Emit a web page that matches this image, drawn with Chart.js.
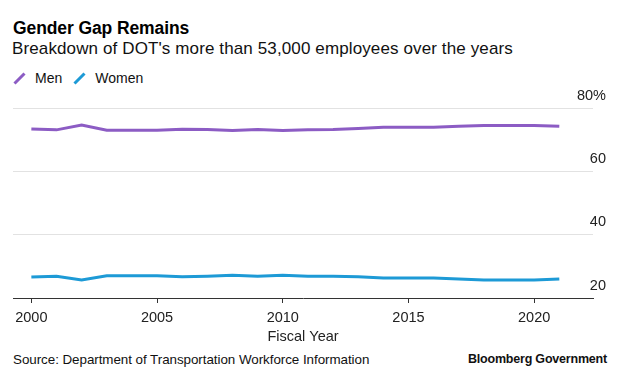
<!DOCTYPE html>
<html>
<head>
<meta charset="utf-8">
<script src="https://cdn.jsdelivr.net/npm/chart.js@4/dist/chart.umd.min.js"></script>
<style>
  html, body { margin: 0; padding: 0; background: #fff; }
  body { width: 620px; height: 379px; position: relative; overflow: hidden;
         font-family: "Liberation Sans", Arial, Helvetica, sans-serif; color: #111; }
  .abs { position: absolute; white-space: nowrap; }
  #title { left: 13px; top: 20px; font-size: 17.5px; line-height: 17px; font-weight: bold; color: #000; letter-spacing: -0.1px; }
  #subtitle { left: 12px; top: 40px; font-size: 17px; line-height: 17px; color: #111; letter-spacing: 0.12px; }
  #legend { left: 13px; top: 71px; font-size: 14px; line-height: 14px; color: #111; display: flex; align-items: center; }
  #legend svg { display: block; margin-right: 9px; }
  #legend span.item { display: flex; align-items: center; margin-right: 11px; }
  #source { left: 13px; top: 353px; font-size: 13.4px; line-height: 13px; color: #111; letter-spacing: -0.05px; }
  #brand { right: 13px; top: 353px; font-size: 12.5px; line-height: 13px; font-weight: bold; color: #111; letter-spacing: -0.2px; }
  #wrap { position: absolute; left: 0; top: 84px; width: 620px; height: 262px; }
</style>
</head>
<body>
<div id="title" class="abs">Gender Gap Remains</div>
<div id="subtitle" class="abs">Breakdown of DOT's more than 53,000 employees over the years</div>
<div id="legend" class="abs"></div>
<div id="wrap"><canvas id="c" width="620" height="262"></canvas></div>
<div id="source" class="abs">Source: Department of Transportation Workforce Information</div>
<div id="brand" class="abs">Bloomberg Government</div>
<script>
// ---- data ----
const years = [2000, 2001, 2002, 2003, 2004, 2005, 2006, 2007, 2008, 2009, 2010,
               2011, 2012, 2013, 2014, 2015, 2016, 2017, 2018, 2019, 2020, 2021];
const men   = [73.4, 73.1, 74.6, 73.0, 73.0, 73.0, 73.3, 73.2, 72.9, 73.2, 72.9,
               73.1, 73.2, 73.5, 73.9, 73.9, 73.9, 74.2, 74.5, 74.5, 74.5, 74.2];
const women = [26.6, 26.9, 25.7, 27.0, 27.0, 27.0, 26.7, 26.9, 27.2, 26.9, 27.2,
               26.9, 26.9, 26.7, 26.3, 26.3, 26.3, 26.0, 25.7, 25.7, 25.7, 26.0];
const seriesNames = ["Men", "Women"];
const seriesColors = ["#8c5cc4", "#1d9ad6"];
const xTicks = [2000, 2005, 2010, 2015, 2020];
const yTicks = [20, 40, 60, 80];
const xTitle = "Fiscal Year";

// ---- legend ----
const legend = document.getElementById('legend');
seriesNames.forEach((n, i) => {
  const s = document.createElement('span');
  s.className = 'item';
  s.innerHTML = '<svg width="13" height="13"><line x1="1.5" y1="11.5" x2="11.5" y2="1.5" stroke="' +
    seriesColors[i] + '" stroke-width="3" stroke-linecap="butt"/></svg>';
  const t = document.createElement('span');
  t.textContent = n;
  s.appendChild(t);
  legend.appendChild(s);
});

// ---- chart ----
const FONT = "'Liberation Sans', Arial, Helvetica, sans-serif";
const toPts = arr => years.map((y, i) => ({ x: y, y: arr[i] }));

new Chart(document.getElementById('c'), {
  type: 'line',
  data: {
    datasets: [
      { label: seriesNames[0], data: toPts(men), borderColor: seriesColors[0], borderWidth: 3,
        pointRadius: 0, tension: 0, fill: false, borderCapStyle: 'butt' },
      { label: seriesNames[1], data: toPts(women), borderColor: seriesColors[1], borderWidth: 3,
        pointRadius: 0, tension: 0, fill: false, borderCapStyle: 'butt' }
    ]
  },
  options: {
    responsive: false,
    animation: false,
    devicePixelRatio: 1,
    layout: { padding: { top: 24, left: 13, right: 27, bottom: 0 } },
    plugins: { legend: { display: false }, tooltip: { enabled: false }, title: { display: false } },
    scales: {
      x: {
        type: 'linear',
        min: 1999.27,
        max: 2022.34,
        afterBuildTicks: s => { s.ticks = xTicks.map(v => ({ value: v })); },
        afterFit: s => { s.height = 48; s.paddingLeft = 0; s.paddingRight = 0; },
        grid: { display: true, drawOnChartArea: false, drawTicks: true, tickLength: 5, color: '#333', lineWidth: 1 },
        border: { display: true, color: '#333', width: 1 },
        ticks: { callback: v => String(v), font: { family: FONT, size: 14.5 }, color: '#222', padding: 6, maxRotation: 0, autoSkip: false },
        title: { display: true, text: xTitle, font: { family: FONT, size: 14.5 }, color: '#222', padding: { top: 0, bottom: 0 } }
      },
      y: {
        position: 'right',
        min: 20,
        max: 80,
        afterBuildTicks: s => { s.ticks = yTicks.map(v => ({ value: v })); },
        afterFit: s => { s.width = 0; s.paddingTop = 0; s.paddingBottom = 0; },
        grid: { drawTicks: false, color: c => (c.tick && c.tick.value === 20) ? 'rgba(0,0,0,0)' : '#e2e2e2', lineWidth: 1 },
        border: { display: false },
        ticks: { mirror: true, padding: 13, labelOffset: -12.5,
                 callback: v => v === 80 ? v + '%' : String(v),
                 font: { family: FONT, size: 14.5 }, color: '#222' }
      }
    }
  }
});
</script>
</body>
</html>
